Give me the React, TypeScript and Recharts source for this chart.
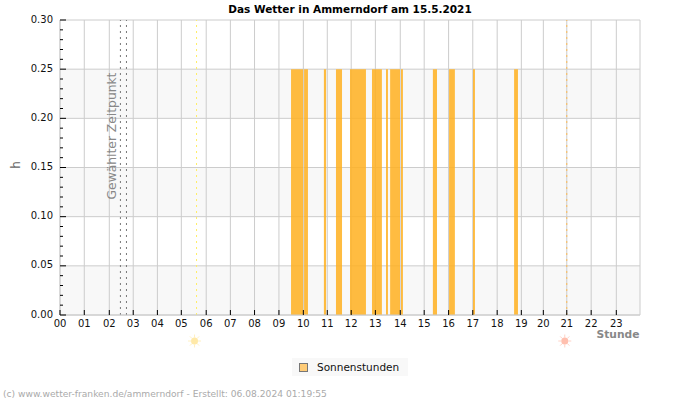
import { AreaChart, Area, XAxis, YAxis, CartesianGrid, ReferenceLine, Legend } from 'recharts'

const FONT = '"DejaVu Sans", sans-serif'

// sunshine intervals of the day, in decimal hours
const sunStart = [9.56, 10.1, 10.92, 11.42, 12.0, 12.91, 13.49, 13.66, 14.11, 15.43, 16.1, 17.09, 18.79]
const sunEnd = [10.06, 10.26, 11.01, 11.67, 12.66, 13.32, 13.57, 14.07, 14.19, 15.6, 16.34, 17.17, 18.95]
const sunValue = [0.25, 0.25, 0.25, 0.25, 0.25, 0.25, 0.25, 0.25, 0.25, 0.25, 0.25, 0.25, 0.25]

const hourTicks = [
  0, 1.005, 2.04, 3.03, 4.03, 5.02, 6.05, 7.05, 8.05, 9.06, 10.07, 11.06,
  12.05, 13.05, 14.08, 15.07, 16.08, 17.08, 18.09, 19.09, 20.0, 20.97, 21.98, 23.02,
]
const hourLabels = [
  '00', '01', '02', '03', '04', '05', '06', '07', '08', '09', '10', '11',
  '12', '13', '14', '15', '16', '17', '18', '19', '20', '21', '22', '23',
]
const majorTicks = [0, 0.05, 0.1, 0.15, 0.2, 0.25, 0.3]
const minorTicks = [
  0, 0.01, 0.02, 0.03, 0.04, 0.05, 0.06, 0.07, 0.08, 0.09, 0.1, 0.11, 0.12, 0.13, 0.14, 0.15,
  0.16, 0.17, 0.18, 0.19, 0.2, 0.21, 0.22, 0.23, 0.24, 0.25, 0.26, 0.27, 0.28, 0.29, 0.3,
]

const sunrise = 5.65
const sunset = 20.97
const selectedFrom = 2.5
const selectedTo = 2.75

// each interval becomes a rectangle in the stepped outline
const rows = sunStart.flatMap((start, i) => [
  { hour: start, sun: 0 },
  { hour: start, sun: sunValue[i] },
  { hour: sunEnd[i], sun: sunValue[i] },
  { hour: sunEnd[i], sun: 0 },
])

function HourTick({ x, y, payload, index }: any) {
  return (
    <g>
      <line x1={x} x2={x} y1={y} y2={y - 5} stroke="#000" />
      <text x={x} y={y + 12} textAnchor="middle" fontSize={10} fontFamily={FONT} fill="#111">
        {hourLabels[index] ?? payload.value}
      </text>
    </g>
  )
}

function ValueTick({ x, y, payload }: any) {
  const major = majorTicks.some((t) => Math.abs(t - payload.value) < 0.001)
  return (
    <g>
      <line x1={x} x2={x + (major ? 6 : 3)} y1={y} y2={y} stroke="#000" />
      {major && (
        <text x={x - 7} y={y + 2.5} textAnchor="end" fontSize={10} fontFamily={FONT} fill="#111">
          {payload.value.toFixed(2)}
        </text>
      )}
    </g>
  )
}

function SunIcon({ viewBox, color }: any) {
  const cx = viewBox.x - 2
  const cy = viewBox.y + viewBox.height + 26
  const angles = [0, 45, 90, 135, 180, 225, 270, 315]
  return (
    <g>
      {angles.map((a) => {
        const r = (a * Math.PI) / 180
        return (
          <line
            key={a}
            x1={cx + Math.cos(r) * 3.5}
            y1={cy + Math.sin(r) * 3.5}
            x2={cx + Math.cos(r) * 6.5}
            y2={cy + Math.sin(r) * 6.5}
            style={{ stroke: color, strokeOpacity: 0.7, strokeWidth: 1 }}
          />
        )
      })}
      <circle cx={cx} cy={cy} r={3.5} fill={color} />
    </g>
  )
}

function LegendBox() {
  return (
    <div
      style={{
        width: 116,
        height: 18,
        background: '#f8f8f8',
        display: 'flex',
        alignItems: 'center',
        fontFamily: FONT,
        fontSize: 10.5,
        color: '#111',
      }}
    >
      <span
        style={{
          width: 7,
          height: 7,
          marginLeft: 7,
          marginRight: 9,
          background: '#ffcc77',
          border: '1px solid #777',
        }}
      />
      Sonnenstunden
    </div>
  )
}

export default function App() {
  return (
    <div style={{ position: 'absolute', left: 0, top: 0, width: 700, height: 400, background: '#fff' }}>
      <AreaChart width={700} height={400} data={rows} margin={{ top: 20, right: 60, bottom: 0, left: 0 }}>
        <CartesianGrid
          stroke="#cccccc"
          horizontalValues={majorTicks}
          verticalValues={[...hourTicks, 24]}
          horizontalFill={['#ffffff', '#f8f8f8']}
          fillOpacity={1}
        />
        <XAxis
          type="number"
          dataKey="hour"
          domain={[0, 24]}
          ticks={hourTicks}
          interval={0}
          height={85}
          tickSize={0}
          tickMargin={0}
          axisLine={{ stroke: '#cccccc' }}
          tick={HourTick}
        />
        <YAxis
          type="number"
          domain={[0, 0.3]}
          ticks={minorTicks}
          interval={0}
          width={60}
          tickSize={0}
          tickMargin={0}
          axisLine={{ stroke: '#cccccc' }}
          tick={ValueTick}
        />
        <Area
          type="linear"
          dataKey="sun"
          name="Sonnenstunden"
          stroke="none"
          fill="#ffb020"
          fillOpacity={0.85}
          dot={false}
          activeDot={false}
          isAnimationActive={false}
        />
        <ReferenceLine x={selectedFrom} stroke="#777" strokeDasharray="2 4" />
        <ReferenceLine x={selectedTo} stroke="#777" strokeDasharray="2 4" />
        <ReferenceLine
          x={sunrise}
          stroke="#ffee66"
          strokeDasharray="2 4"
          label={(p: any) => <SunIcon viewBox={p.viewBox} color="#ffe9a8" />}
        />
        <ReferenceLine
          x={sunset}
          stroke="#ffbb55"
          strokeDasharray="2 4"
          label={(p: any) => <SunIcon viewBox={p.viewBox} color="#ffbfae" />}
        />
        <Legend
          layout="horizontal"
          verticalAlign="middle"
          content={() => <LegendBox />}
          wrapperStyle={{ position: 'absolute', left: 292, top: 358, width: 116, height: 18 }}
        />
        <text x={350} y={13} textAnchor="middle" fontSize={10.5} fontWeight="bold" fontFamily={FONT} fill="#000">
          Das Wetter in Ammerndorf am 15.5.2021
        </text>
        <text
          transform="translate(116,136) rotate(-90)"
          textAnchor="middle"
          fontSize={12.3}
          fontFamily={FONT}
          fill="#888"
        >
          Gewählter Zeitpunkt
        </text>
        <text transform="translate(19.5,165) rotate(-90)" textAnchor="middle" fontSize={12} fontFamily={FONT} fill="#666">
          h
        </text>
        <text x={639.5} y={338} textAnchor="end" fontSize={10.7} fontWeight="bold" fontFamily={FONT} fill="#888">
          Stunde
        </text>
        <text x={3} y={397} fontSize={9.15} fontFamily={FONT} fill="#aaa">
          (c) www.wetter-franken.de/ammerndorf - Erstellt: 06.08.2024 01:19:55
        </text>
      </AreaChart>
    </div>
  )
}
